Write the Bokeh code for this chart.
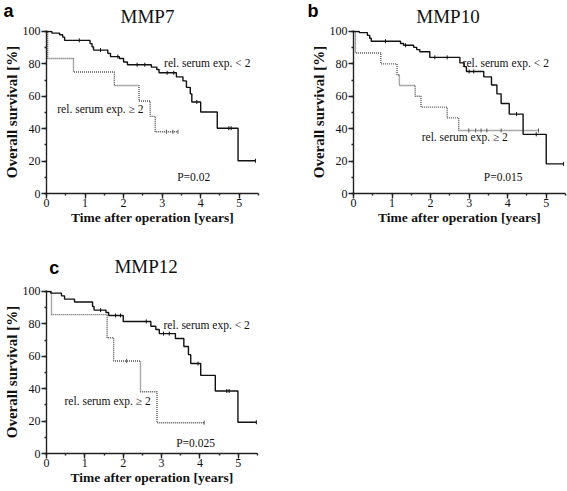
import numpy as np
from bokeh.plotting import figure
from bokeh.layouts import row, column
from bokeh.models import SingleIntervalTicker, Label, Range1d
from bokeh.embed import file_html
from bokeh.resources import INLINE

# ---------------- data ----------------
# Panel a: MMP7
a_lo_t = [0.14, 0.34, 0.42, 0.47, 1.13, 1.18, 1.22, 1.59, 1.66, 1.89, 2.00, 2.10,
          2.72, 2.86, 2.92, 3.37, 3.54, 3.63, 3.73, 3.77, 4.00, 4.43, 4.97]
a_lo_s = [99.0, 98.0, 96.5, 94.5, 92.5, 90.5, 88.5, 86.5, 84.5, 83.3, 81.2, 79.5,
          78.0, 76.5, 74.5, 72.0, 69.5, 65.5, 61.5, 56.5, 50.3, 40.3, 20.2]
a_lo_end = 5.42
a_lo_cens = [0.85, 1.40, 1.85, 2.35, 2.55, 3.13, 3.30, 3.90, 4.73, 4.79, 5.42]
a_hi_t = [0.03, 0.70, 1.76, 2.40, 2.69, 2.82]
a_hi_s = [83.3, 75.0, 66.7, 57.1, 47.6, 38.1]
a_hi_end = 3.41
a_hi_cens = [3.11, 3.28, 3.41]

# Panel b: MMP10
b_lo_t = [0.15, 0.36, 0.42, 0.46, 1.22, 1.30, 1.56, 1.64, 1.72, 1.98, 2.76, 2.87,
          2.93, 3.38, 3.58, 3.72, 3.83, 4.04, 4.40, 5.00]
b_lo_s = [99.3, 97.6, 95.8, 94.0, 92.6, 91.5, 90.2, 88.8, 87.5, 84.0, 80.6, 78.3,
          75.3, 72.0, 67.0, 61.5, 55.5, 49.0, 36.5, 18.3]
b_lo_end = 5.45
b_lo_cens = [0.83, 1.35, 2.11, 2.43, 3.00, 3.12, 4.23, 4.74, 5.45]
b_hi_t = [0.05, 0.71, 1.13, 1.19, 1.60, 1.75, 2.43, 2.73]
b_hi_s = [86.7, 80.0, 73.3, 66.7, 60.0, 53.3, 46.7, 38.9]
b_hi_end = 4.80
b_hi_cens = [2.99, 3.17, 3.31, 3.46, 3.83, 4.80]

# Panel c: MMP12
c_lo_t = [0.11, 0.39, 0.47, 0.73, 1.20, 1.24, 1.55, 1.62, 2.00, 2.72, 2.85, 2.94,
          3.36, 3.58, 3.70, 3.76, 4.02, 4.40, 4.99]
c_lo_s = [99.0, 97.3, 95.3, 93.5, 90.7, 88.5, 87.0, 85.2, 81.5, 78.5, 76.5, 74.0,
          71.0, 66.0, 61.0, 55.5, 48.2, 38.6, 19.3]
c_lo_end = 5.47
c_lo_cens = [1.41, 1.80, 1.93, 2.60, 3.05, 3.20, 3.95, 4.70, 4.76, 5.47]
c_hi_t = [0.13, 1.58, 1.75, 2.45, 2.88]
c_hi_s = [85.7, 71.4, 57.1, 38.1, 19.0]
c_hi_end = 4.11
c_hi_cens = [2.09, 4.11]

titles = ["MMP7", "MMP10", "MMP12"]
letters = ["a", "b", "c"]
p_values = ["P=0.02", "P=0.015", "P=0.025"]
lo_label = "rel. serum exp. < 2"
hi_label = "rel. serum exp. \u2265 2"
x_label = "Time after operation [years]"
y_label = "Overall survival [%]"

SERIF = "Liberation Serif"
SANS = "Liberation Sans"


def step_xy(times, surv, end):
    x = [0.0] + list(times) + [end]
    y = [100.0] + list(surv) + [surv[-1]]
    return x, y


def surv_at(times, surv, tt):
    idx = np.searchsorted(np.asarray(times), np.asarray(tt), side="right")
    vals = np.concatenate([[100.0], np.asarray(surv)])
    return vals[idx]


def make_header(width, height, title, letter, title_cx, title_cy, letter_x, letter_cy):
    h = figure(width=width, height=height, output_backend="svg",
               toolbar_location=None, x_range=Range1d(0, width),
               y_range=Range1d(0, height), x_axis_type=None, y_axis_type=None,
               min_border_left=0, min_border_right=0, min_border_top=0,
               min_border_bottom=0)
    h.grid.visible = False
    h.outline_line_color = None
    h.add_layout(Label(x=title_cx, y=title_cy, text=title,
                       text_font=SERIF, text_font_size="19px",
                       text_color="#111111", text_align="center",
                       text_baseline="middle"))
    h.add_layout(Label(x=letter_x, y=letter_cy, text=letter,
                       text_font=SANS, text_font_style="bold",
                       text_font_size="18px", text_color="black",
                       text_align="left", text_baseline="middle"))
    return h


def make_panel(pval, lo, hi, width, height, bl, br, bt, bb,
               lo_pos, hi_pos, p_pos):
    p = figure(width=width, height=height, output_backend="svg",
               toolbar_location=None, x_range=Range1d(0, 5.5),
               y_range=Range1d(0, 100.6),
               min_border_left=bl, min_border_right=br,
               min_border_top=bt, min_border_bottom=bb)
    p.grid.visible = False
    p.outline_line_color = None

    p.xaxis.ticker = SingleIntervalTicker(interval=1, num_minor_ticks=2)
    p.yaxis.ticker = SingleIntervalTicker(interval=20, num_minor_ticks=2)
    for ax in (p.xaxis, p.yaxis):
        ax.axis_line_width = 1.4
        ax.axis_line_color = "#222222"
        ax.major_tick_line_width = 1.4
        ax.major_tick_line_color = "#222222"
        ax.minor_tick_line_width = 1.4
        ax.minor_tick_line_color = "#222222"
        ax.major_tick_in = 0
        ax.major_tick_out = 5
        ax.minor_tick_in = 0
        ax.minor_tick_out = 2
        ax.major_label_text_font = SERIF
        ax.major_label_text_font_size = "12px"
        ax.major_label_text_color = "#111111"
        ax.axis_label_text_font = SERIF
        ax.axis_label_text_font_style = "bold"
        ax.axis_label_text_color = "#111111"
    p.yaxis.major_label_standoff = 1
    p.yaxis.axis_label_standoff = 0
    p.xaxis.major_label_standoff = 0
    p.xaxis.axis_label_standoff = 0
    p.xaxis.axis_label = x_label
    p.yaxis.axis_label = y_label
    p.xaxis.axis_label_text_font_size = "13.5px"
    p.yaxis.axis_label_text_font_size = "15px"

    (lt, ls, le, lc), (ht, hs, he, hc) = lo, hi
    hx, hy = step_xy(ht, hs, he)
    p.step(hx, hy, mode="after", line_color="#555555", line_width=1.4,
           line_dash="1 1")
    p.scatter(hc, surv_at(ht, hs, hc), marker="dash", angle=np.pi / 2, size=4,
              line_color="#555555", line_width=1)
    lx, ly = step_xy(lt, ls, le)
    p.step(lx, ly, mode="after", line_color="#111111", line_width=1.4)
    p.scatter(lc, surv_at(lt, ls, lc), marker="dash", angle=np.pi / 2, size=4,
              line_color="#111111", line_width=1)

    for (tx, ty), txt in ((lo_pos, lo_label), (hi_pos, hi_label), (p_pos, pval)):
        p.add_layout(Label(x=tx, y=ty, text=txt, text_font=SERIF,
                           text_font_size="11.5px", text_color="#111111",
                           text_align="left", text_baseline="middle"))
    return p


ha = make_header(307, 25, titles[0], letters[0], 147, 9.5, 3, 14.5)
hb = make_header(260, 25, titles[1], letters[1], 140.5, 9.5, 0, 14.5)
hc = make_header(307, 35, titles[2], letters[2], 145, 19, 4, 17.2)

fa = make_panel(p_values[0],
                (a_lo_t, a_lo_s, a_lo_end, a_lo_cens),
                (a_hi_t, a_hi_s, a_hi_end, a_hi_cens),
                307, 225, 42, 49, 5, 57,
                (3.05, 80.4), (0.28, 52.0), (3.39, 10.3))
fb = make_panel(p_values[1],
                (b_lo_t, b_lo_s, b_lo_end, b_lo_cens),
                (b_hi_t, b_hi_s, b_hi_end, b_hi_cens),
                260, 225, 42, 2, 5, 57,
                (2.83, 80.4), (1.77, 34.6), (3.38, 9.9))
fc = make_panel(p_values[2],
                (c_lo_t, c_lo_s, c_lo_end, c_lo_cens),
                (c_hi_t, c_hi_s, c_hi_end, c_hi_cens),
                307, 206, 41, 50, 5, 38,
                (3.05, 79.4), (0.47, 32.2), (3.38, 6.4))

layout = column(row(ha, hb), row(fa, fb), hc, fc)

open("out.html", "w").write(file_html(layout, INLINE))
